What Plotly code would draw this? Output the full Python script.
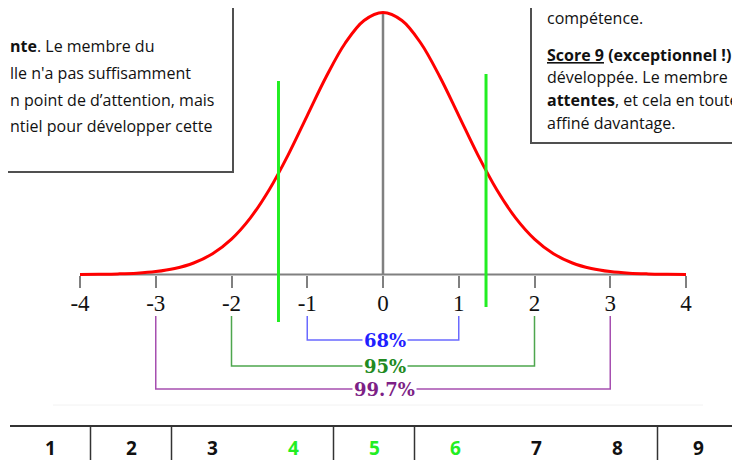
import plotly.graph_objects as go

# ----------- data -------------------------
sigma = [-4, -3.75, -3.5, -3.25, -3, -2.75, -2.5, -2.25, -2, -1.75, -1.5, -1.25, -1, -0.75, -0.5, -0.25,
         0, 0.25, 0.5, 0.75, 1, 1.25, 1.5, 1.75, 2, 2.25, 2.5, 2.75, 3, 3.25, 3.5, 3.75, 4]
density = [0.0001, 0.0004, 0.0009, 0.0020, 0.0044, 0.0091, 0.0175, 0.0317, 0.0540, 0.0863, 0.1295, 0.1826,
           0.2420, 0.3011, 0.3521, 0.3867, 0.3989, 0.3867, 0.3521, 0.3011, 0.2420, 0.1826, 0.1295, 0.0863,
           0.0540, 0.0317, 0.0175, 0.0091, 0.0044, 0.0020, 0.0009, 0.0004, 0.0001]
tick_vals = [-4, -3, -2, -1, 0, 1, 2, 3, 4]
tick_text = ["-4", "-3", "-2", "-1", "0", "1", "2", "3", "4"]
cut_points = [-1.38, 1.36]
interval_width = [1, 2, 3]
interval_labels = ["68%", "95%", "99.7%"]
scores = [1, 2, 3, 4, 5, 6, 7, 8, 9]
score_highlight = [4, 5, 6]
score_breaks = [1, 2, 4, 5, 8]

left_lines = ["<b>nte</b>. Le membre du",
              "lle n'a pas suffisamment",
              "n point de d\u2019attention, mais",
              "ntiel pour développer cette"]
right_lines = ["compétence.",
               "<b><u>Score 9</u> (exceptionnel !)</b> La compétence est très",
               "développée. Le membre du personnel dépasse",
               "<b>attentes</b>, et cela en toute circonstance",
               "affiné davantage."]

# ----------- styles -------------------------
REF_W, REF_H = 740, 460
PAGE = 8  # the page body margin shifts the figure by 8px, so the figure is drawn 8px smaller
W, H = REF_W - PAGE, REF_H - PAGE
GRAY = "#808080"
bracket_line = ["#6a6aff", "#4ea64e", "#a64fb0"]
bracket_text = ["#1f1fff", "#218a21", "#7d1f86"]
bracket_y = [340, 366, 389]
bracket_top = 316
GREEN = "#22ee22"
TXT = dict(family="Open Sans", size=16, color="#111111")

# pixel mapping in reference pixels (x: -4 -> 80px, 4 -> 686px ; y: 0 -> 274.5px, peak -> 12.5px)
xs = (686 - 80) / 8.0
ys = (274.5 - 12.5) / 0.3989
x_range = [-4 - (80 - PAGE) / xs, 4 + (REF_W - 686) / xs]
y_range = [-(REF_H - 274.5) / ys, (274.5 - PAGE) / ys]

fig = go.Figure()
fig.add_trace(go.Scatter(x=sigma, y=density, mode="lines",
                         line=dict(color="#ff0000", width=3, shape="spline", smoothing=1),
                         hoverinfo="skip", showlegend=False))

shapes = []
annotations = []

# axis line and centre line
shapes.append(dict(type="line", xref="x", yref="y", x0=tick_vals[0], x1=tick_vals[-1], y0=0, y1=0,
                   line=dict(color=GRAY, width=2), layer="below"))
shapes.append(dict(type="line", xref="x", yref="y", x0=0, x1=0, y0=0, y1=max(density),
                   line=dict(color=GRAY, width=2.5), layer="below"))

# green cut lines
green_ends = [(81, 322), (74, 307)]
for c, (t, b) in zip(cut_points, green_ends):
    shapes.append(dict(type="line", xref="x", yref="y2", x0=c, x1=c, y0=t, y1=b,
                       line=dict(color=GREEN, width=3)))

# 68 / 95 / 99.7 brackets
for w, lab, lc, tc, by in zip(interval_width, interval_labels, bracket_line, bracket_text, bracket_y):
    shapes.append(dict(type="path", xref="x", yref="y2",
                       path=f"M {-w},{bracket_top} L {-w},{by} L {w},{by} L {w},{bracket_top}",
                       line=dict(color=lc, width=1.5)))
    annotations.append(dict(x=0.02, y=by, xref="x", yref="y2", text=f"<b>{lab}</b>", showarrow=False,
                            font=dict(family="DejaVu Serif", size=18, color=tc),
                            bgcolor="white", borderpad=1, xanchor="center", yanchor="middle"))

# text boxes
shapes.append(dict(type="rect", xref="x2", yref="y2", x0=-10, x1=233, y0=-10, y1=172,
                   line=dict(color="#505050", width=2), fillcolor="rgba(0,0,0,0)"))
shapes.append(dict(type="rect", xref="x2", yref="y2", x0=531, x1=760, y0=-10, y1=143,
                   line=dict(color="#505050", width=2), fillcolor="rgba(0,0,0,0)"))
for t, yy in zip(left_lines, [46, 73, 100, 126]):
    annotations.append(dict(x=PAGE, y=yy, xref="x2", yref="y2", text=t, showarrow=False,
                            xanchor="left", yanchor="middle", font=TXT))
for t, yy in zip(right_lines, [18, 55, 77, 100, 123]):
    annotations.append(dict(x=545, y=yy, xref="x2", yref="y2", text=t, showarrow=False,
                            xanchor="left", yanchor="middle", font=TXT))

# score table
shapes.append(dict(type="line", xref="x2", yref="y2", x0=53, x1=703, y0=405, y1=405,
                   line=dict(color="#f2f2f2", width=1)))
shapes.append(dict(type="line", xref="x2", yref="y2", x0=10, x1=REF_W, y0=426, y1=426,
                   line=dict(color="#333333", width=2)))
for s in score_breaks:
    sx = 50 + 81 * (s - 1) + 40.5
    shapes.append(dict(type="line", xref="x2", yref="y2", x0=sx, x1=sx, y0=426, y1=REF_H,
                       line=dict(color="#333333", width=1.5)))
for s in scores:
    annotations.append(dict(x=50 + 81 * (s - 1), y=448, xref="x2", yref="y2", text=f"<b>{s}</b>",
                            showarrow=False, xanchor="center", yanchor="middle",
                            font=dict(family="Open Sans", size=19,
                                      color=GREEN if s in score_highlight else "#111111")))

fig.update_layout(
    width=W, height=H,
    margin=dict(l=0, r=0, t=0, b=0),
    paper_bgcolor="white", plot_bgcolor="white",
    showlegend=False,
    xaxis=dict(range=x_range, showgrid=False, zeroline=False, showline=False,
               tickmode="array", tickvals=tick_vals, ticktext=tick_text,
               ticks="outside", ticklen=12, tickwidth=2, tickcolor=GRAY, ticklabelstandoff=-4,
               tickfont=dict(family="Liberation Serif", size=23, color="#111111"),
               anchor="free", position=1 - (274.5 - PAGE) / H, fixedrange=True),
    yaxis=dict(range=y_range, visible=False, fixedrange=True),
    xaxis2=dict(range=[PAGE, REF_W], visible=False, overlaying="x", anchor="y2"),
    yaxis2=dict(range=[REF_H, PAGE], visible=False, overlaying="y", anchor="x2"),
    shapes=shapes,
    annotations=annotations,
)

fig.write_html("out.html")
